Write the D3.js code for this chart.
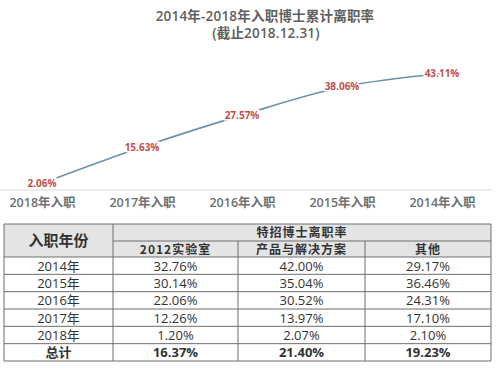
<!DOCTYPE html>
<html><head><meta charset="utf-8">
<script src="https://cdn.jsdelivr.net/npm/d3@7/dist/d3.min.js"></script>
<style>
html,body{margin:0;padding:0;background:#fff;}
svg{display:block;font-family:"Open Sans","Noto Sans CJK SC",sans-serif;}
</style></head>
<body><svg id="c" width="502" height="372"></svg>
<script>
const title = "2014年-2018年入职博士累计离职率";
const subtitle = "(截止2018.12.31)";
const categories = ["2018年入职","2017年入职","2016年入职","2015年入职","2014年入职"];
const rates = [2.06, 15.63, 27.57, 38.06, 43.11];

const tableCorner = "入职年份";
const tableGroup = "特招博士离职率";
const columns = ["2012实验室","产品与解决方案","其他"];
const rowLabels = ["2014年","2015年","2016年","2017年","2018年","总计"];
const lab2012 = [32.76, 30.14, 22.06, 12.26, 1.20, 16.37];
const products = [42.00, 35.04, 30.52, 13.97, 2.07, 21.40];
const others = [29.17, 36.46, 24.31, 17.10, 2.10, 19.23];

const svg = d3.select("#c");

// Titles
svg.append("text").attr("x",265).attr("y",21).attr("text-anchor","middle")
  .attr("font-size",13.5).attr("font-weight","600").attr("letter-spacing",0.2)
  .attr("fill","#606060").text(title);
svg.append("text").attr("x",266).attr("y",38).attr("text-anchor","middle")
  .attr("font-size",13.5).attr("font-weight","600").attr("letter-spacing",0.2)
  .attr("fill","#606060").text(subtitle);

// Line chart
const x = d3.scalePoint().domain(categories).range([42, 442]);
const y = d3.scaleLinear().domain([0, 50]).range([189, 55]);

svg.append("line").attr("x1",0).attr("x2",492).attr("y1",y(0)+1).attr("y2",y(0)+1)
  .attr("stroke","#d9d9d9").attr("stroke-width",1);

const axis = d3.axisBottom(x).tickSize(0).tickPadding(8);
const ax = svg.append("g").attr("transform",`translate(0,${y(0)+1})`).call(axis);
ax.select(".domain").remove();
ax.selectAll("text").attr("font-size",12.5).attr("font-weight","600").attr("fill","#707070")
  .attr("font-family","\"Open Sans\",\"Noto Sans CJK SC\",sans-serif");

const pts = categories.map((c,i)=>({c, v:rates[i]}));
const line = d3.line().x(d=>x(d.c)).y(d=>y(d.v)).curve(d3.curveMonotoneX);
svg.append("path").datum(pts).attr("d",line).attr("fill","none")
  .attr("stroke","#6b93a8").attr("stroke-width",1.6);

svg.selectAll(".lbl").data(pts).join("text").attr("class","lbl")
  .attr("x",d=>x(d.c)).attr("y",d=>y(d.v)+3.5).attr("text-anchor","middle")
  .attr("font-size",10).attr("font-weight","700").attr("fill","#c0504d")
  .attr("stroke","#fff").attr("stroke-width",3).attr("paint-order","stroke")
  .text(d=>d.v.toFixed(2)+"%");

// Table
const colEdges = [4, 113, 238, 365, 491];
const tTop = 224, tMid = 241, headBottom = 257, tBottom = 361;
const rowY = d3.scaleBand().domain(rowLabels).range([headBottom, tBottom]);
const g = svg.append("g");

g.append("rect").attr("x",colEdges[0]).attr("y",tTop).attr("width",colEdges[4]-colEdges[0])
  .attr("height",headBottom-tTop).attr("fill","#e4e4e4");

const cellStroke = "#6e6e6e";
const hLines = [{y:tTop,x1:colEdges[0],x2:colEdges[4]},{y:tMid,x1:colEdges[1],x2:colEdges[4]},
  {y:headBottom,x1:colEdges[0],x2:colEdges[4]}]
  .concat(rowLabels.slice(0,-1).map(r=>({y:rowY(r)+rowY.bandwidth(),x1:colEdges[0],x2:colEdges[4]})))
  .concat([{y:tBottom,x1:colEdges[0],x2:colEdges[4]}]);
g.selectAll(".hl").data(hLines).join("line").attr("x1",d=>d.x1).attr("x2",d=>d.x2)
  .attr("y1",d=>d.y).attr("y2",d=>d.y).attr("stroke",cellStroke).attr("stroke-width",1);
const vLines = colEdges.map((xx,i)=>({x:xx, y1:(i===2||i===3)?tMid:tTop}));
g.selectAll(".vl").data(vLines).join("line").attr("x1",d=>d.x).attr("x2",d=>d.x)
  .attr("y1",d=>d.y1).attr("y2",tBottom).attr("stroke",cellStroke).attr("stroke-width",1);

const tf = "\"Noto Sans CJK SC\",sans-serif";
g.append("text").attr("x",(colEdges[0]+colEdges[1])/2).attr("y",(tTop+headBottom)/2+5)
  .attr("text-anchor","middle").attr("font-size",15).attr("font-weight","700")
  .attr("font-family",tf).attr("fill","#333").text(tableCorner);
g.append("text").attr("x",(colEdges[1]+colEdges[4])/2).attr("y",tMid-4.5)
  .attr("text-anchor","middle").attr("font-size",12).attr("font-weight","700")
  .attr("letter-spacing",1).attr("font-family",tf).attr("fill","#333").text(tableGroup);
g.selectAll(".ch").data(columns).join("text")
  .attr("x",(d,i)=>(colEdges[i+1]+colEdges[i+2])/2).attr("y",headBottom-3)
  .attr("text-anchor","middle").attr("font-size",12).attr("font-weight","700")
  .attr("letter-spacing",1).attr("font-family",tf).attr("fill","#333").text(d=>d);

const series = [lab2012, products, others];
const last = rowLabels[rowLabels.length-1];
g.selectAll(".rl").data(rowLabels).join("text")
  .attr("x",(colEdges[0]+colEdges[1])/2).attr("y",d=>rowY(d)+rowY.bandwidth()/2+5)
  .attr("text-anchor","middle").attr("font-size",13)
  .attr("font-weight",d=>d===last?"700":"400")
  .attr("font-family","\"Open Sans\",\"Noto Sans CJK SC\",sans-serif").attr("fill","#333").text(d=>d);
series.forEach((vals,ci)=>{
  g.selectAll(".v"+ci).data(vals).join("text")
    .attr("x",(colEdges[ci+1]+colEdges[ci+2])/2)
    .attr("y",(d,i)=>rowY(rowLabels[i])+rowY.bandwidth()/2+5)
    .attr("text-anchor","middle").attr("font-size",13)
    .attr("font-weight",(d,i)=>i===vals.length-1?"700":"400")
    .attr("font-family","\"Open Sans\",sans-serif").attr("fill","#333")
    .text(d=>d.toFixed(2)+"%");
});
</script></body></html>
